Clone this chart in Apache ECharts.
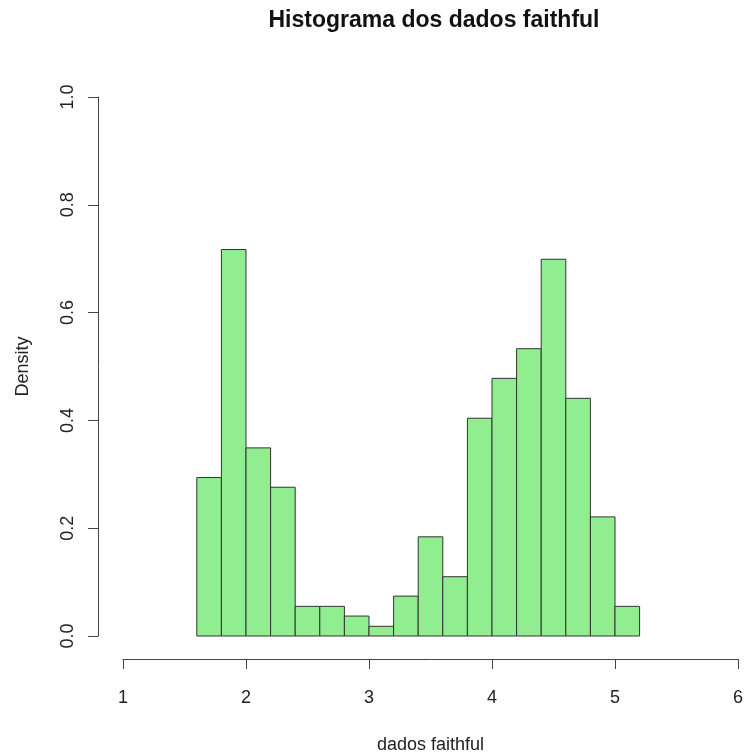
<!DOCTYPE html>
<html>
<head>
<meta charset="utf-8">
<script src="https://cdn.jsdelivr.net/npm/echarts@6/dist/echarts.min.js"></script>
<style>html,body{margin:0;padding:0;background:#fff}#c{width:747px;height:755px}</style>
</head>
<body>
<div id="c"></div>
<script>
// Bin edges (left edges) and densities
var binStarts = [1.6, 1.8, 2.0, 2.2, 2.4, 2.6, 2.8, 3.0, 3.2, 3.4, 3.6, 3.8, 4.0, 4.2, 4.4, 4.6, 4.8, 5.0];
var binWidth = 0.2;
var densities = [0.294, 0.717, 0.349, 0.276, 0.055, 0.055, 0.037, 0.018, 0.074, 0.184, 0.110, 0.404, 0.478, 0.533, 0.699, 0.441, 0.221, 0.055];
var xTicks = [1, 2, 3, 4, 5, 6];
var yTicks = [0.0, 0.2, 0.4, 0.6, 0.8, 1.0];

var FONT = '"Liberation Sans", Arial, sans-serif';
var data = binStarts.map(function (s, i) { return [s, s + binWidth, densities[i]]; });

var chart = echarts.init(document.getElementById('c'), null, {renderer: 'canvas'});
chart.setOption({
  backgroundColor: '#ffffff',
  animation: false,
  title: {
    text: 'Histograma dos dados faithful',
    left: 429, top: 4, textAlign: 'center',
    textStyle: {fontFamily: FONT, fontSize: 23, fontWeight: 'bold', color: '#111'}
  },
  grid: {left: 123, right: 9, top: 97, bottom: 119, containLabel: false, outerBoundsMode: 'none'},
  xAxis: {
    type: 'value', min: 1, max: 6, interval: 1, offset: 23,
    name: 'dados faithful', nameLocation: 'middle', nameGap: 77,
    nameTextStyle: {fontFamily: FONT, fontSize: 18, color: '#222'},
    axisLine: {show: true, onZero: false, lineStyle: {color: '#444', width: 1}},
    axisTick: {show: true, length: 10, lineStyle: {color: '#444'}},
    axisLabel: {fontFamily: FONT, fontSize: 18, color: '#222', margin: 30,
      formatter: function (v) { return xTicks.indexOf(v) >= 0 ? String(v) : ''; }},
    splitLine: {show: false}
  },
  yAxis: {
    type: 'value', min: 0, max: 1, interval: 0.2, offset: 25,
    name: 'Density', nameLocation: 'middle', nameGap: 66, nameRotate: 90,
    nameTextStyle: {fontFamily: FONT, fontSize: 18, color: '#222'},
    axisLine: {show: true, onZero: false, lineStyle: {color: '#444', width: 1}},
    axisTick: {show: true, length: 10, lineStyle: {color: '#444'}},
    axisLabel: {fontFamily: FONT, fontSize: 18, color: '#222', margin: 21, rotate: 90,
      formatter: function (v) { return v.toFixed(1); }},
    splitLine: {show: false}
  },
  series: [{
    type: 'custom',
    data: data,
    encode: {x: [0, 1], y: 2},
    renderItem: function (params, api) {
      var p0 = api.coord([api.value(0), 0]);
      var p1 = api.coord([api.value(1), api.value(2)]);
      return {
        type: 'rect',
        shape: {x: p0[0], y: p1[1], width: p1[0] - p0[0], height: p0[1] - p1[1]},
        style: {fill: '#90EE90', stroke: '#333', lineWidth: 1}
      };
    }
  }]
});
</script>
</body>
</html>
